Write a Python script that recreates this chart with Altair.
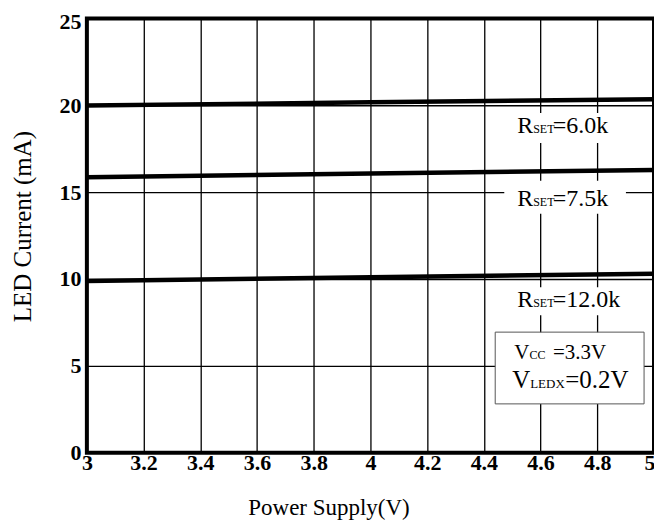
import altair as alt
import pandas as pd

# ---- data ----
supply_v = [3.0, 4.0, 5.0]
i_6k0 = [19.98, 20.17, 20.34]
i_7k5 = [15.85, 16.07, 16.27]
i_12k = [9.88, 10.10, 10.30]
series_names = ["RSET=6.0k", "RSET=7.5k", "RSET=12.0k"]

x_ticks = [3, 3.2, 3.4, 3.6, 3.8, 4, 4.2, 4.4, 4.6, 4.8, 5]
y_ticks = [0, 5, 10, 15, 20, 25]

# annotation pieces (data coordinates): text, x, y(baseline), font size
ann_text = ["R", "SET", "=6.0k", "R", "SET", "=7.5k", "R", "SET", "=12.0k",
            "V", "CC", "=3.3V", "V", "LEDX", "=0.2V"]
ann_x = [4.5176, 4.5739, 4.6430, 4.5176, 4.5739, 4.6430, 4.5176, 4.5739, 4.6430,
         4.507, 4.5606, 4.644, 4.50, 4.5634, 4.6866]
ann_y = [18.39, 18.39, 18.39, 14.22, 14.22, 14.22, 8.39, 8.39, 8.39,
         5.37, 5.37, 5.37, 3.71, 3.71, 3.71]
ann_size = [24, 12, 24, 24, 12, 24, 24, 12, 24, 21, 12, 21, 25, 13, 25]

# white backgrounds behind labels
bg_x0 = [4.472, 4.472, 4.472]
bg_x1 = [4.901, 4.901, 4.901]
bg_y0 = [17.83, 13.76, 7.91]
bg_y1 = [19.55, 15.65, 9.52]

# condition box
box_x0 = [4.440]
box_x1 = [4.965]
box_y0 = [2.81]
box_y1 = [6.94]

FONT = "Liberation Serif"

rows = []
for name, vals in zip(series_names, [i_6k0, i_7k5, i_12k]):
    for v, i in zip(supply_v, vals):
        rows.append({"V": v, "I": i, "s": name})
df_lines = pd.DataFrame(rows)
df_ann = pd.DataFrame({"t": ann_text, "V": ann_x, "I": ann_y, "size": ann_size})
df_bg = pd.DataFrame({"V": bg_x0, "V2": bg_x1, "I": bg_y0, "I2": bg_y1})
df_box = pd.DataFrame({"V": box_x0, "V2": box_x1, "I": box_y0, "I2": box_y1})

xscale = alt.Scale(domain=[3, 5], nice=False, zero=False)
yscale = alt.Scale(domain=[0, 25], nice=False)

xaxis = alt.Axis(values=x_ticks, format="~g", grid=True, gridColor="black",
                 gridWidth=1.3, gridOpacity=1, ticks=False, domain=False,
                 labelFont=FONT, labelFontWeight="bold", labelFontSize=22,
                 labelColor="black", labelPadding=0, labelFlush=False,
                 labelAlign={"condition": {"test": "datum.value >= 5", "value": "right"},
                             "value": "center"},
                 labelOffset={"condition": {"test": "datum.value >= 5", "value": 1},
                              "value": 0},
                 title="Power Supply(V)", titleFont=FONT, titleFontSize=23,
                 titleFontWeight="normal", titleColor="black",
                 titleX=242, titleY=62, titleBaseline="alphabetic",
                 titleAlign="center", titleAnchor="start")
yaxis = alt.Axis(values=y_ticks, format="d", grid=True, gridColor="black",
                 gridWidth=1.3, gridOpacity=1, ticks=False, domain=False,
                 labelFont=FONT, labelFontWeight="bold", labelFontSize=22,
                 labelColor="black", labelPadding=6, labelFlush=False,
                 labelBaseline="middle",
                 labelOffset={"condition": {"test": "datum.value >= 25", "value": 3},
                              "value": 0},
                 title="LED Current (mA)", titleFont=FONT, titleFontSize=25,
                 titleFontWeight="normal", titleColor="black",
                 titleX=-64, titleY=208, titleBaseline="middle",
                 titleAlign="center", titleAngle=270, titleAnchor="start")


def X(f="V"):
    return alt.X(f"{f}:Q", scale=xscale, axis=xaxis, title="Power Supply(V)")


def Y(f="I"):
    return alt.Y(f"{f}:Q", scale=yscale, axis=yaxis, title="LED Current (mA)")


lines = alt.Chart(df_lines).mark_line(color="black", strokeWidth=4.5).encode(
    x=X(), y=Y(), detail="s:N")

bgs = alt.Chart(df_bg).mark_rect(color="white").encode(
    x=X(), x2="V2", y=Y(), y2="I2")

box = alt.Chart(df_box).mark_rect(fill="white", stroke="#555555", strokeWidth=1).encode(
    x=X(), x2="V2", y=Y(), y2="I2")

texts = alt.Chart(df_ann).mark_text(font=FONT, align="left", baseline="alphabetic",
                                     color="#000000").encode(
    x=X(), y=Y(), text="t:N", size=alt.Size("size:Q", scale=None, legend=None))

chart = alt.layer(lines, bgs, box, texts).properties(
    width=568, height=435, autosize="none",
    padding={"left": 79, "top": 10, "right": 0, "bottom": 68},
).configure_view(stroke="black", strokeWidth=4)

chart.save("out.html", embed_options={"renderer": "svg", "actions": False})
